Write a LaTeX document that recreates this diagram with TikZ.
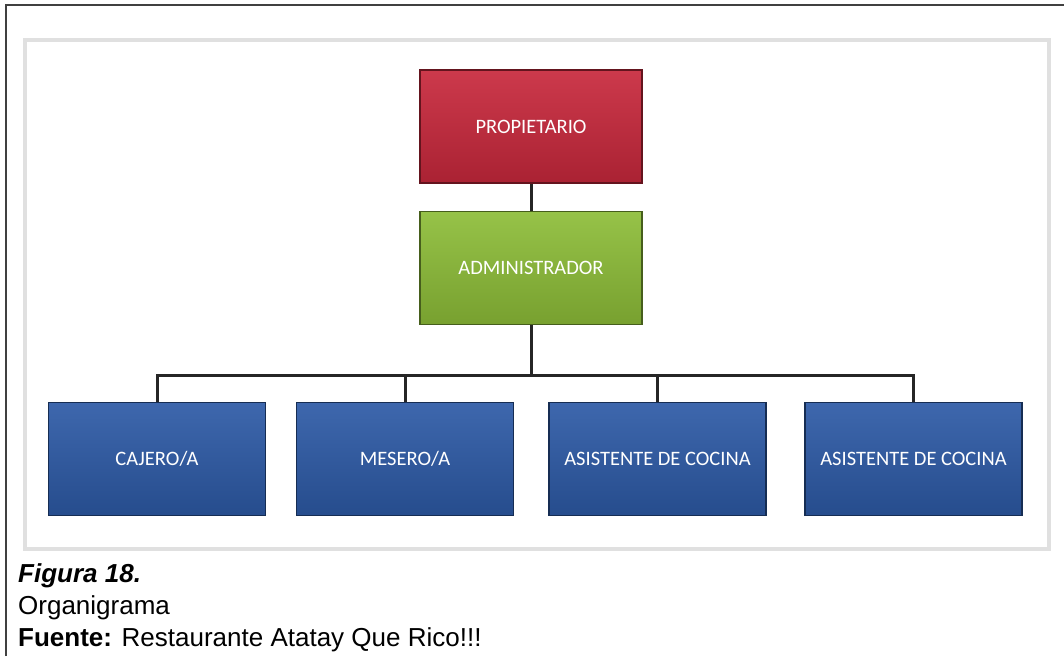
\documentclass[tikz,border=0pt]{standalone}
\usepackage{fontspec}
\setmainfont{Liberation Sans}
\newfontfamily\boxfont{Carlito}
\usetikzlibrary{positioning,calc}
\definecolor{ownRed}{HTML}{C8283C}
\definecolor{admGreen}{HTML}{8DBD38}
\definecolor{staffBlue}{HTML}{2D5AA6}

\begin{document}
\begin{tikzpicture}[x=1pt,y=-1pt,
  box/.style={draw=#1!50!black,line width=1.4pt,top color=#1!92!white,bottom color=#1!85!black,
    text=white,font=\boxfont\fontsize{20.5}{24}\selectfont,inner sep=0pt,minimum height=113pt},
  topbox/.style={box=#1,minimum width=222pt},
  lowbox/.style={box=#1,minimum width=217pt},
  conn/.style={line width=3pt,black!85},
  captxt/.style={anchor=base west,inner sep=0pt,font=\fontsize{26}{30}\selectfont}]
  \useasboundingbox (0,0) rectangle (1064,656);
  \fill[white] (0,0) rectangle (1064,656);
  % frame and panel
  \draw[line width=2.5pt,black!75] (6,656) -- (6,5) -- (1064,5);
  \draw[draw=black!12,line width=4pt,fill=white] (25,40) rectangle (1049,549);
  % boxes
  \node[topbox=ownRed] (prop) at (531,126.5) {PROPIETARIO};
  \node[topbox=admGreen] (adm) at (531,268) {ADMINISTRADOR};
  \node[lowbox=staffBlue] (caj) at (157,459) {CAJERO/A};
  \node[lowbox=staffBlue] (mes) at (405,459) {MESERO/A};
  \node[lowbox=staffBlue] (asi) at (657.5,459) {ASISTENTE DE COCINA};
  \node[lowbox=staffBlue] (asd) at (913.5,459) {ASISTENTE DE COCINA};
  \coordinate (bar) at (531,375);
  % connectors
  \draw[conn] (prop) -- (adm);
  \draw[conn] (adm) -- (bar);
  \foreach \n in {caj,mes,asi,asd} \draw[conn] (bar) -| (\n);
  % caption
  \node[captxt] (fig) at (18,582) {\textbf{\textit{Figura 18.}}};
  \node[captxt] (org) at (18,614) {Organigrama};
  \node[captxt] (src) at (18,646) {\textbf{Fuente:} Restaurante Atatay Que Rico!!!};
\end{tikzpicture}
\end{document}
